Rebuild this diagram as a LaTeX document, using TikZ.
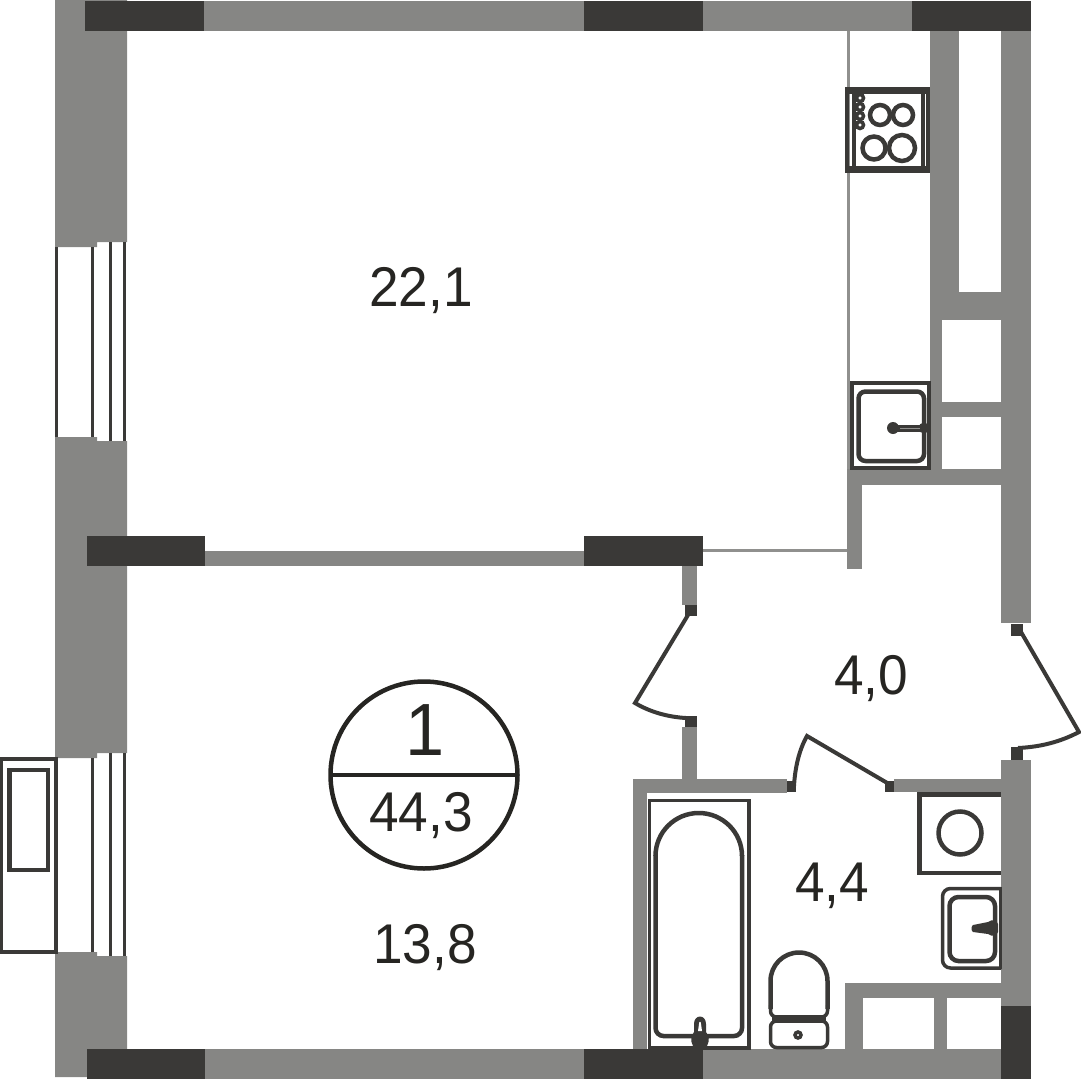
\documentclass[tikz,border=0pt]{standalone}
\usepackage{fontspec}
\setmainfont{Liberation Sans}
\newfontfamily\labelfont[FakeStretch=0.95]{Liberation Sans}
\definecolor{wallgray}{HTML}{868684}
\definecolor{walldark}{HTML}{3A3937}
\definecolor{thingray}{HTML}{90908E}
\definecolor{textdark}{HTML}{262522}
\begin{document}
\begin{tikzpicture}
[x=1pt, y=-1pt,
wall/.style={fill=wallgray},
darkwall/.style={fill=walldark},
fixture/.style={draw=walldark, line width=3.5pt},
heavyfixture/.style={draw=walldark, line width=4.5pt},
doorleaf/.style={draw=walldark, line width=4pt, line join=miter},
thinwall/.style={draw=thingray, line width=3pt},
windowline/.style={draw=walldark, line width=3.5pt},
arealabel/.style={text=textdark, inner sep=0pt, font=\labelfont\fontsize{56}{60}\selectfont}]
\useasboundingbox (0,0) rectangle (1080,1081);
\fill[wall] (55,0) -- (127,0) -- (127,242) -- (97,242) -- (97,247) -- (55,247) -- cycle;
\fill[wall] (55,437) -- (97,437) -- (97,441) -- (127,441) -- (127,753) -- (97,753) -- (97,758) -- (55,758) -- cycle;
\fill[wall] (55,952) -- (97,952) -- (97,956) -- (127,956) -- (127,1049) -- (87,1049) -- (87,1077) -- (55,1077) -- cycle;
\fill[wall] (204,1) rectangle (584,31);
\fill[wall] (703,1) rectangle (912,31);
\fill[wall] (205,551) rectangle (584,566);
\fill[wall] (205,1049) rectangle (584,1079);
\fill[wall] (703,1049) rectangle (1001,1079);
\fill[wall] (1001,31) rectangle (1031,623);
\fill[wall] (1001,760) rectangle (1031,1006);
\fill[wall] (930,31) rectangle (959,292);
\fill[wall] (930,292) rectangle (1001,320);
\fill[wall] (930,320) rectangle (942,469);
\fill[wall] (942,402) rectangle (1001,417);
\fill[wall] (847,469) rectangle (1001,485);
\fill[wall] (847,485) rectangle (862,569);
\fill[wall] (682,566) rectangle (697,605);
\fill[wall] (682,727) rectangle (697,779);
\fill[wall] (633,779) rectangle (787,793);
\fill[wall] (633,793) rectangle (647,1049);
\fill[wall] (894,779) rectangle (1001,792);
\fill[wall] (845,983) rectangle (1001,998);
\fill[wall] (845,998) rectangle (863,1049);
\fill[wall] (934,998) rectangle (947,1049);
\fill[darkwall] (85,1) rectangle (204,31);
\fill[darkwall] (584,1) rectangle (703,31);
\fill[darkwall] (912,1) rectangle (1031,31);
\fill[darkwall] (87,536) rectangle (205,566);
\fill[darkwall] (584,536) rectangle (703,566);
\fill[darkwall] (87,1049) rectangle (205,1079);
\fill[darkwall] (584,1049) rectangle (703,1079);
\fill[darkwall] (1001,1006) rectangle (1031,1079);
\fill[darkwall] (685,605) rectangle (697,616);
\fill[darkwall] (685,716) rectangle (697,727);
\fill[darkwall] (1011,624) rectangle (1023,636);
\fill[darkwall] (1011,747) rectangle (1023,760);
\fill[darkwall] (787,781) rectangle (796,792);
\fill[darkwall] (885,781) rectangle (894,792);
\draw[thinwall] (848.5,31) -- (848.5,469);
\draw[thinwall] (703,550.5) -- (847,550.5);
\draw[windowline] (56.5,247) -- (56.5,437);
\draw[windowline] (92.5,247) -- (92.5,437);
\draw[windowline] (110.5,242) -- (110.5,441);
\draw[windowline] (124.5,242) -- (124.5,441);
\draw[windowline] (56.5,758) -- (56.5,952);
\draw[windowline] (92.5,758) -- (92.5,952);
\draw[windowline] (110.5,753) -- (110.5,956);
\draw[windowline] (124.5,753) -- (124.5,956);
\draw[fixture] (1.5,759) rectangle (56,952);
\draw[heavyfixture] (9.5,770) rectangle (48,870);
\draw[doorleaf] (688,615) -- (635,703) .. controls (650,712) and (668,717) .. (686,718);
\draw[doorleaf] (1021,632) -- (1079,732) .. controls (1060,742) and (1040,747) .. (1018,748);
\draw[doorleaf] (794,786) .. controls (795,768) and (799,750) .. (807,736) -- (889,784);
\draw[heavyfixture] (847,89) rectangle (928,171);
\draw[draw=walldark, line width=7pt] (845,90.5) -- (930,90.5);
\draw[draw=walldark, line width=7pt] (845,169.5) -- (930,169.5);
\draw[draw=walldark, line width=4pt] (854,90) -- (854,170);
\draw[draw=walldark, line width=4pt] (923,90) -- (923,170);
\draw[draw=walldark, line width=3.5pt] (860,98) circle (3.5);
\draw[draw=walldark, line width=3.5pt] (860,107) circle (3.5);
\draw[draw=walldark, line width=3.5pt] (860,116) circle (3.5);
\draw[draw=walldark, line width=3.5pt] (860,125) circle (3.5);
\draw[heavyfixture] (880,115) circle (10);
\draw[heavyfixture] (903,115) circle (10);
\draw[heavyfixture] (874,148) circle (11.5);
\draw[heavyfixture] (902,148) circle (13);
\draw[heavyfixture] (852,383) rectangle (929,468);
\draw[heavyfixture, rounded corners=7pt] (858.5,391.5) rectangle (924,461);
\fill[walldark] (893,428) circle (6);
\fill[walldark] (924,428) circle (5.5);
\draw[draw=walldark, line width=7pt] (893,428) -- (924,428);
\draw[draw=thingray, line width=0.8pt] (900,428) -- (920,428);
\draw[fixture] (649.5,800.5) rectangle (749,1048);
\draw[heavyfixture, rounded corners=8pt] (655.5,855) -- (655.5,1036) -- (742,1036) -- (742,855);
\draw[heavyfixture] (655.5,856) arc[start angle=180, end angle=360, x radius=43.25, y radius=43];
\fill[walldark] (693,1046) .. controls (690,1040) and (691,1036) .. (694,1032) -- (694,1024) .. controls (694,1014) and (706,1014) .. (706,1024) -- (706,1032) .. controls (709,1036) and (710,1040) .. (707,1046) -- cycle;
\fill[white] (698,1031) -- (699,1024) .. controls (699,1021) and (701,1021) .. (701,1024) -- (702,1031) -- cycle;
\draw[heavyfixture] (770.5,1009) -- (770.5,981) arc[start angle=180, end angle=360, radius=28.5] -- (827.5,1009);
\draw[fixture, rounded corners=6pt] (770.5,1005) -- (770.5,1017) -- (827.5,1017) -- (827.5,1005);
\draw[fixture, rounded corners=6pt] (770.5,1021) rectangle (827.5,1047.5);
\fill[walldark] (772,1015) rectangle (826,1022);
\draw[fixture, fill=white] (798,1035) circle (3);
\draw[heavyfixture] (1001,794.5) -- (919.5,794.5) -- (919.5,873) -- (1001,873);
\draw[heavyfixture] (960,833) circle (21.5);
\draw[fixture, rounded corners=8pt] (1001,888.5) -- (942.5,888.5) -- (942.5,968) -- (1001,968);
\draw[draw=walldark, line width=3pt] (1000,887) -- (1000,969);
\draw[heavyfixture, rounded corners=9pt] (949.5,897) rectangle (995,961);
\fill[walldark] (973,925) -- (988,922) .. controls (992,919) and (997,920) .. (998,924) -- (998,932) .. controls (997,936) and (992,937) .. (988,934) -- (973,932) .. controls (971,931) and (971,926) .. (973,925) -- cycle;
\draw[draw=textdark, line width=4.5pt] (424,775) circle (93.5);
\draw[draw=textdark, line width=4pt] (331,775) -- (517,775);
\node[arealabel] (livingarea) at (421,291) {22,1};
\node[arealabel] (bedarea) at (425,948) {13,8};
\node[arealabel] (hallarea) at (871,679) {4,0};
\node[arealabel] (bathearea) at (832,886) {4,4};
\node[arealabel] (totalarea) at (421,816) {44,3};
\node[arealabel, font=\labelfont\fontsize{74}{78}\selectfont] (flatnumber) at (425,730) {1};
\end{tikzpicture}
\end{document}
